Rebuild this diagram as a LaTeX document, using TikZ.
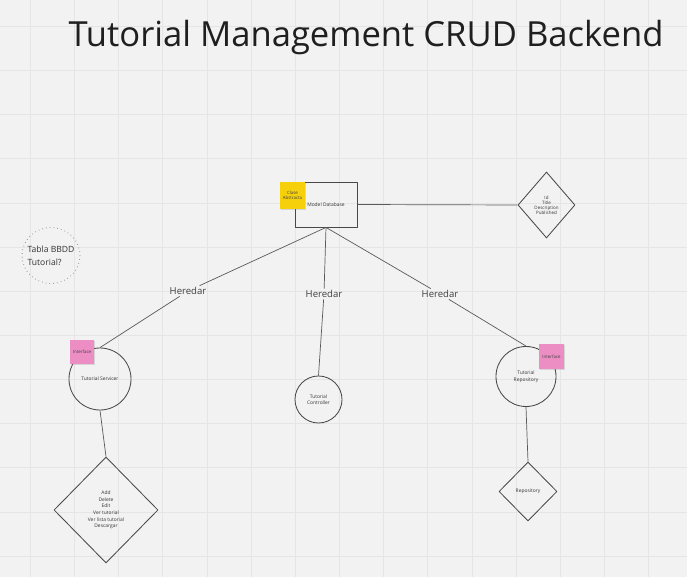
\documentclass[tikz,border=0pt]{standalone}
\usepackage{fontspec}
\setmainfont{Open Sans}
\usetikzlibrary{shapes.geometric,positioning,shadows}
\definecolor{paper}{RGB}{242,242,242}
\definecolor{gridc}{RGB}{229,229,229}
\definecolor{inkc}{RGB}{72,72,72}
\definecolor{yellownote}{RGB}{246,208,10}
\definecolor{pinknote}{RGB}{236,142,196}
\tikzset{
  shp/.style={draw=inkc,line width=0.6pt,inner sep=0pt,align=center,text=black!80,
    font=\fontsize{3.5}{4.7}\selectfont},
  note/.style={fill=#1,inner sep=0pt,align=center,text=black!75,
    font=\fontsize{3.1}{3.9}\selectfont,
    drop shadow={shadow xshift=0.4pt,shadow yshift=-0.9pt,opacity=0.25}},
  lbl/.style={inner sep=1pt,text=black!75,font=\fontsize{6.8}{8}\selectfont},
  link/.style={draw=inkc!90,line width=0.5pt}
}
\begin{document}
\begin{tikzpicture}[x=0.025cm,y=-0.025cm,line join=round]
\fill[paper] (0,0) rectangle (687,577);
\useasboundingbox (0,0) rectangle (687,577);
\foreach \k in {0,...,15}{\draw[gridc,line width=0.7pt] (30.5+44.15*\k,0) -- (30.5+44.15*\k,577);}
\foreach \k in {0,...,12}{\draw[gridc,line width=0.7pt] (0,26.4+44.15*\k) -- (687,26.4+44.15*\k);}

\node[text=black!88,font=\fontsize{24.6}{28}\selectfont] (title) at (366,38) {Tutorial Management CRUD Backend};

\node[shp,rectangle,minimum width=1.55cm,minimum height=1.125cm] (model) at (326,204.5) {Model Database};
\node[note=yellownote,minimum width=0.625cm,minimum height=0.675cm] (abstract) at (292.5,195.5) {Clase\\Abstracta};
\node[shp,diamond,minimum width=1.425cm,minimum height=1.65cm,font=\fontsize{3.2}{3.5}\selectfont] (attrs) at (546.5,205) {Id\\Title\\Description\\Published};

\node[align=left,inner sep=0pt,text=black!80,font=\fontsize{6.1}{9.4}\selectfont] (tabla) at (51,255.5) {Tabla BBDD\\Tutorial?};
\draw[black!45,line width=0.6pt,dash pattern=on 0.5pt off 2.2pt] (tabla.center) ellipse [x radius=29,y radius=28];

\node[shp,circle,minimum size=1.55cm] (servicer) at (100,379) {Tutorial Servicer};
\node[note=pinknote,minimum size=0.6cm] (servint) at (82,352) {Interface};
\node[shp,circle,minimum size=1.175cm] (controller) at (318.5,399.5) {Tutorial\\Controller};
\node[shp,circle,minimum size=1.5cm] (repo) at (526,376.5) {Tutorial\\Repository};
\node[note=pinknote,minimum size=0.625cm] (repoint) at (551.5,356.5) {Interface};

\node[shp,diamond,minimum width=2.6cm,minimum height=2.65cm] (ops) at (106,510) {Add\\Delete\\Edit\\Ver tutorial\\Ver lista tutorial\\Descargar};
\node[shp,diamond,minimum width=1.45cm,minimum height=1.475cm] (repostore) at (528,491.5) {Repository};

\node[lbl] (h1) at (188,291) {Heredar};
\node[lbl] (h2) at (324,294) {Heredar};
\node[lbl] (h3) at (440,294) {Heredar};

\draw[link] (model.east) -- (attrs.west);
\draw[link] (model.south) -- (h1) -- (servicer.north);
\draw[link] (model.south) -- (h2) -- (controller.north);
\draw[link] (model.south) -- (h3) -- (repo.north);
\draw[link] (servicer.south) -- (ops.north);
\draw[link] (repo.south) -- (repostore.north);
\end{tikzpicture}
\end{document}
